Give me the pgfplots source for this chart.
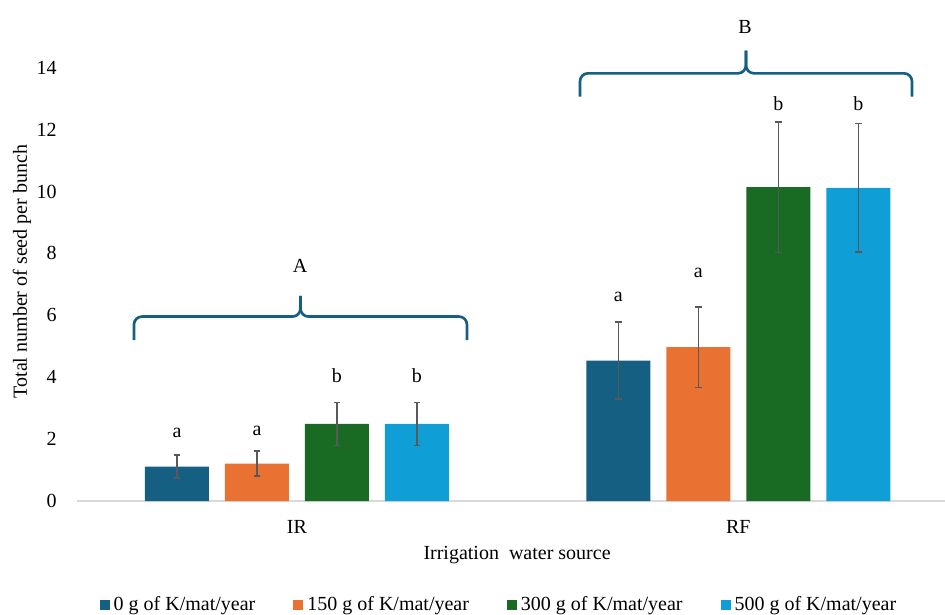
\documentclass[border=0pt]{standalone}
\usepackage{pgfplots}
\pgfplotsset{compat=1.18}
\usepackage{fontspec}
\setmainfont{Liberation Serif}
\definecolor{cA}{HTML}{156082}
\definecolor{cB}{HTML}{E97132}
\definecolor{cC}{HTML}{196B24}
\definecolor{cD}{HTML}{0F9ED5}
\definecolor{errgray}{HTML}{595959}
\definecolor{axgray}{HTML}{D9D9D9}
\begin{document}
\fontsize{15}{18}\selectfont
\begin{tikzpicture}
\begin{axis}[
  scale only axis,
  width=651pt, height=375.75pt,
  xmin=-0.4985, xmax=1.4684,
  ymin=0, ymax=16.19,
  clip=false,
  axis x line*=bottom, axis y line*=left,
  x axis line style={-, draw=axgray, line width=0.8pt},
  y axis line style={draw=none},
  major tick length=0pt,
  xtick={0,1}, xticklabels={IR,RF},
  ytick={0,2,...,14},
  /pgf/number format/assume math mode=true,
  yticklabel style={anchor=east, inner sep=0pt, xshift=-15pt},
  xticklabel style={anchor=center, inner sep=0pt, yshift=-19.5pt},
  xlabel={Irrigation\ \ water source},
  ylabel={Total number of seed per bunch},
  every axis x label/.style={at={(axis description cs:0.507,0)}, anchor=center, yshift=-40.9pt},
  every axis y label/.style={at={(axis description cs:0,0.458)}, xshift=-41.25pt, anchor=center, rotate=90},
  bar width=48pt,
  legend columns=4,
  legend style={draw=none, fill=none, at={(axis description cs:0.485,-0.2066)}, anchor=center,
    /tikz/every odd column/.append style={column sep=3pt},
    /tikz/every even column/.append style={column sep=28.5pt},
    nodes={inner xsep=0pt}},
  legend image code/.code={\fill[#1] (0pt,-3.75pt) rectangle (7.5pt,3.75pt);},
  error bars/y dir=both, error bars/y explicit,
  error bars/error mark options={errgray, rotate=90, mark size=2.6pt, line width=1.1pt},
]
\addplot[ybar, bar shift=-90pt, fill=cA, draw=none,
  error bars/error bar style={errgray, line width=1.1pt, xshift=-90pt}]
  coordinates {(0,1.11) +- (0,0.37) (1,4.54) +- (0,1.24)};
\addlegendentry{0 g of K/mat/year}
\addplot[ybar, bar shift=-30pt, fill=cB, draw=none,
  error bars/error bar style={errgray, line width=1.1pt, xshift=-30pt}]
  coordinates {(0,1.21) +- (0,0.40) (1,4.97) +- (0,1.30)};
\addlegendentry{150 g of K/mat/year}
\addplot[ybar, bar shift=30pt, fill=cC, draw=none,
  error bars/error bar style={errgray, line width=1.1pt, xshift=30pt}]
  coordinates {(0,2.49) +- (0,0.69) (1,10.14) +- (0,2.11)};
\addlegendentry{300 g of K/mat/year}
\addplot[ybar, bar shift=90pt, fill=cD, draw=none,
  error bars/error bar style={errgray, line width=1.1pt, xshift=90pt}]
  coordinates {(0,2.49) +- (0,0.69) (1,10.12) +- (0,2.08)};
\addlegendentry{500 g of K/mat/year}
% significance letters
\addplot[draw=none, mark=none, forget plot, nodes near coords, point meta=explicit symbolic,
  every node near coord/.append style={anchor=center, inner sep=0pt, text=black}]
  coordinates {
  (-0.2719,2.21) [a] (-0.0906,2.27) [a] (0.0906,4.05) [b] (0.2719,4.05) [b]
  (0.7281,6.58) [a] (0.9094,7.36) [a] (1.0906,12.83) [b] (1.2719,12.85) [b]
  (0.0068,7.60) [A] (1.0150,15.33) [B]
  };
% braces
\draw[cA, line width=2pt, rounded corners=6pt] (axis cs:-0.3694,5.20) -- (axis cs:-0.3694,5.96) -- (axis cs:0.0079,5.96) -- (axis cs:0.0079,6.63);
\draw[cA, line width=2pt, rounded corners=6pt] (axis cs:0.3852,5.20) -- (axis cs:0.3852,5.96) -- (axis cs:0.0079,5.96) -- (axis cs:0.0079,6.63);
\draw[cA, line width=2pt, rounded corners=6pt] (axis cs:0.6413,13.07) -- (axis cs:0.6413,13.82) -- (axis cs:1.0174,13.82) -- (axis cs:1.0174,14.55);
\draw[cA, line width=2pt, rounded corners=6pt] (axis cs:1.3936,13.07) -- (axis cs:1.3936,13.82) -- (axis cs:1.0174,13.82) -- (axis cs:1.0174,14.55);
\end{axis}
\pgfresetboundingbox
\path (current axis.south west) ++(-57.75pt,-84.75pt) rectangle ++(708.75pt,460.5pt);
\end{tikzpicture}
\end{document}
